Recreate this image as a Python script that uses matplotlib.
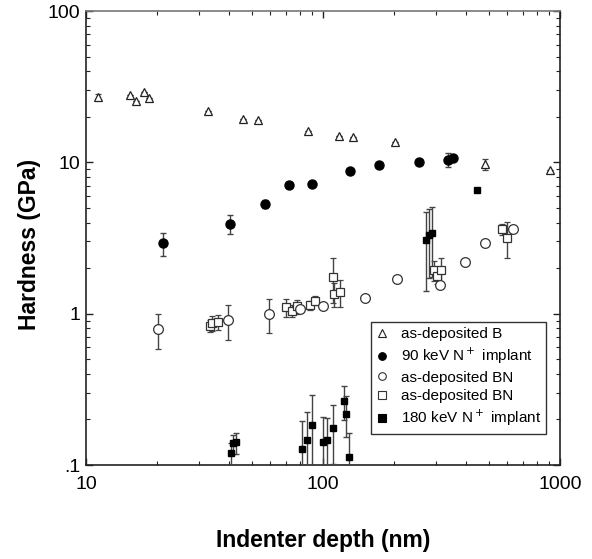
import matplotlib
matplotlib.use("Agg")
import matplotlib.pyplot as plt
from matplotlib.ticker import FixedLocator, LogLocator, NullFormatter

plt.rcParams['font.family'] = ['Liberation Sans', 'DejaVu Sans']

# as-deposited B (open triangles)
b_x = [11.2, 15.3, 16.3, 17.5, 18.5, 32.7, 46.1, 53.2, 86.5, 117, 134, 201, 484, 908]
b_y = [27.0, 27.9, 25.4, 29.0, 26.5, 21.9, 19.4, 18.9, 16.2, 15.0, 14.6, 13.7, 9.7, 8.86]
b_e = [1.2, 0, 0, 0, 0, 0, 0, 0, 0, 0, 0, 0, 0.85, 0]

# 90 keV N+ implant (filled circles)
n90_x = [21.2, 40.5, 57.1, 71.6, 89.5, 130, 172, 255, 338, 352]
n90_y = [2.92, 3.91, 5.30, 7.11, 7.19, 8.8, 9.55, 10.0, 10.35, 10.7]
n90_e = [0.5, 0.55, 0.3, 0.3, 0.2, 0, 0, 0, 1.1, 0]

# as-deposited BN (open circles)
bnc_x = [20.2, 39.6, 59.4, 80, 100.3, 151, 206, 312, 397, 481, 631]
bnc_y = [0.79, 0.907, 0.994, 1.08, 1.13, 1.27, 1.69, 1.545, 2.18, 2.92, 3.6]
bnc_e = [0.21, 0.24, 0.25, 0, 0, 0, 0, 0, 0, 0, 0]

# as-deposited BN (open squares)
bns_x = [33.3, 34.1, 36.1, 69.8, 74, 77.4, 88.1, 92.5, 109.9, 111, 118, 295, 302, 314, 567, 600]
bns_y = [0.832, 0.871, 0.88, 1.10, 1.045, 1.12, 1.14, 1.22, 1.75, 1.35, 1.38, 1.94, 1.77, 1.94, 3.6, 3.18]
bns_e = [0.08, 0.1, 0.1, 0.15, 0.1, 0.12, 0.08, 0.08, 0.57, 0.25, 0.28, 0.3, 0.2, 0.38, 0.3, 0.85]

# 180 keV N+ implant (filled squares)
n180_x = [40.9, 41.9, 42.8, 81.5, 85.3, 89.5, 99.7, 104.3, 109.9, 122.7, 124.7, 129.2, 272, 281, 289, 448]
n180_y = [0.120, 0.139, 0.141, 0.127, 0.146, 0.184, 0.142, 0.146, 0.176, 0.266, 0.218, 0.113, 3.07, 3.31, 3.39, 6.56]
n180_e = [0.02, 0.02, 0.022, 0.068, 0.079, 0.104, 0.067, 0.059, 0.075, 0.068, 0.066, 0.05, 1.65, 1.6, 1.65, 0]

fig = plt.figure(figsize=(5.92, 5.59), dpi=100)
ax = fig.add_axes([86/592, 1-465/559, (560-86)/592, (465-11)/559])
ax.set_xscale('log')
ax.set_yscale('log')
ax.set_xlim(10, 1000)
ax.set_ylim(0.1, 100)

ekw = dict(ecolor='#444444', elinewidth=1.0, capsize=2.5, capthick=1.0, linestyle='none')

ax.errorbar(n180_x, n180_y, yerr=n180_e, marker='s', ms=4.5, mfc='black', mec='black',
            label='180 keV N$^+$ implant', zorder=3, **ekw)
ax.errorbar(bns_x, bns_y, yerr=bns_e, marker='s', ms=5.5, mfc='white', mec='#333333', mew=0.9,
            label='as-deposited BN', zorder=4, **ekw)
ax.errorbar(bnc_x, bnc_y, yerr=bnc_e, marker='o', ms=7, mfc='white', mec='#333333', mew=0.9,
            label='as-deposited BN', zorder=4, **ekw)
ax.errorbar(n90_x, n90_y, yerr=n90_e, marker='o', ms=6.5, mfc='black', mec='black',
            label='90 keV N$^+$ implant', zorder=5, **ekw)
ax.errorbar(b_x, b_y, yerr=b_e, marker='^', ms=6, mfc='white', mec='#222222', mew=0.9,
            label='as-deposited B', zorder=5, **ekw)

ax.yaxis.set_major_locator(FixedLocator([0.1, 1, 10, 100]))
ax.set_yticklabels(['.1', '1', '10', '100'])
ax.xaxis.set_major_locator(FixedLocator([10, 100, 1000]))
ax.set_xticklabels(['10', '100', '1000'])
ax.xaxis.set_minor_locator(LogLocator(base=10, subs=range(2, 10)))
ax.yaxis.set_minor_locator(LogLocator(base=10, subs=range(2, 10)))
ax.xaxis.set_minor_formatter(NullFormatter())
ax.yaxis.set_minor_formatter(NullFormatter())
ax.tick_params(which='both', direction='in', top=True, right=True, labelsize=14, color='#222222')
ax.tick_params(which='major', length=5, width=1)
ax.tick_params(which='minor', length=3, width=0.8)
ax.tick_params(axis='x', pad=8)
ax.tick_params(axis='y', pad=4)
for s in ax.spines.values():
    s.set_linewidth(1.2)
    s.set_color('#222222')
ax.spines['top'].set_color('#777777')

fig.text(323/592, 1-540/559, 'Indenter depth (nm)', fontsize=16.5, fontweight='bold',
         ha='center', va='center')
fig.text(30/592, 1-244/559, 'Hardness (GPa)', fontsize=16.5, fontweight='bold',
         ha='center', va='center', rotation=90)

h, l = ax.get_legend_handles_labels()
order = [4, 3, 2, 1, 0]
hs = []
for i in order:
    hh = h[i][0]
    hs.append(plt.Line2D([], [], linestyle='none', marker=hh.get_marker(),
                         ms=5.5, mfc=hh.get_markerfacecolor(),
                         mec=hh.get_markeredgecolor(), mew=0.8))
leg = ax.legend(hs, [l[i] for i in order], loc='upper left',
                bbox_to_anchor=((371-86)/474, 1-(322-11)/454), borderaxespad=0,
                fontsize=11, frameon=True, fancybox=False, edgecolor='#333333', framealpha=1,
                handlelength=0.8, handletextpad=0.8, borderpad=0.35, labelspacing=0.3)
leg.get_frame().set_linewidth(1.0)

fig.savefig('out.png', dpi=100)
